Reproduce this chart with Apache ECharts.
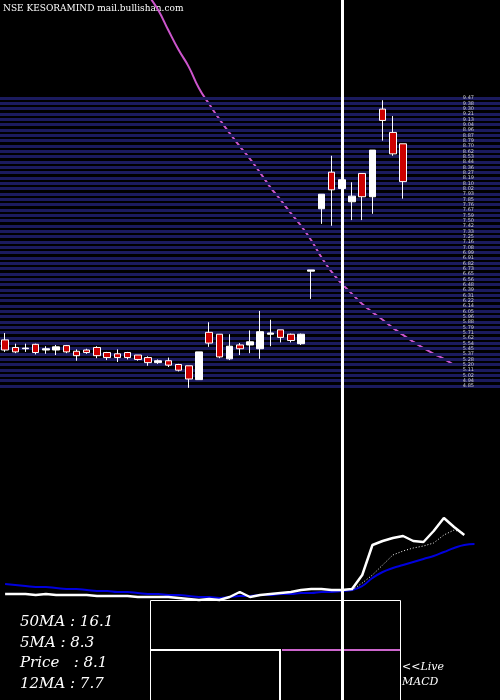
<!DOCTYPE html>
<html>
<head>
<meta charset="utf-8">
<script src="https://cdn.jsdelivr.net/npm/echarts@6/dist/echarts.min.js"></script>
<style>html,body{margin:0;padding:0;background:#000}#main{width:500px;height:700px}</style>
</head>
<body>
<div id="main"></div>
<script>
// candles: [open, close, low, high]
const candles = [
  [5.61,5.45,5.42,5.72],[5.49,5.42,5.40,5.55],[5.47,5.48,5.42,5.55],[5.54,5.41,5.38,5.55],
  [5.45,5.47,5.39,5.51],[5.45,5.50,5.37,5.53],[5.52,5.42,5.40,5.53],[5.43,5.36,5.28,5.46],
  [5.45,5.41,5.39,5.47],[5.49,5.36,5.32,5.51],[5.41,5.33,5.29,5.42],[5.39,5.33,5.26,5.46],
  [5.41,5.33,5.30,5.42],[5.37,5.30,5.28,5.37],[5.33,5.25,5.20,5.35],[5.25,5.28,5.23,5.30],
  [5.28,5.21,5.18,5.33],[5.22,5.13,5.11,5.23],[5.20,4.99,4.85,5.20],[4.98,5.42,4.98,5.42],
  [5.73,5.56,5.50,5.89],[5.70,5.34,5.32,5.70],[5.31,5.51,5.29,5.70],[5.53,5.47,5.37,5.56],
  [5.53,5.58,5.40,5.76],[5.47,5.74,5.31,6.07],[5.70,5.72,5.51,5.93],[5.77,5.65,5.57,5.77],
  [5.70,5.60,5.57,5.71],[5.55,5.70,5.53,5.71],[6.70,6.72,6.26,6.72],[7.69,7.92,7.45,7.92],
  [8.27,7.99,7.42,8.53],[8.01,8.15,8.01,8.22],[7.80,7.89,7.51,8.11],[8.25,7.88,7.51,8.25],
  [7.88,8.62,7.61,8.62],[9.27,9.09,8.77,9.41],[8.90,8.56,8.53,9.16],[8.72,8.12,7.85,8.72]
];
const maLine = [null,null,null,null,null,null,null,null,null,null,null,null,null,null,
  11.08,10.84,10.52,10.21,9.94,9.60,9.35,9.11,8.89,8.68,8.48,8.26,8.03,7.83,7.62,7.42,
  7.19,6.92,6.69,6.50,6.34,6.18,6.05,5.93,5.80,5.69,5.58,5.48,5.39,5.31,5.21];
const macdBlue = [116,115,114,113,113,112,111,111,110,109,109,108,108,107,106,106,105,105,104,103,
  103,102,103,104,104,105,105,106,106,107,107,108,108,109,110,114,122,128,132,135,138,141,144,148,152,155,156];
const macdWhite = [106,106,106,105,106,105,105,105,105,104,104,104,104,103,103,103,103,102,101,100,
  101,100,103,108,103,105,106,107,108,110,111,111,110,110,111,125,155,159,162,164,159,158,169,182,173,165];
const macdDot = [null,null,null,null,null,null,null,null,null,null,null,null,null,null,null,null,null,
  null,null,null,null,null,null,null,null,null,null,null,null,null,null,null,null,null,
  110,117,125,135,145,149,152,154,157,165,170,167];
const priceLevels = 54;
const statLines = ['50MA : 16.1','5MA : 8.3','Price   : 8.1','12MA : 7.7'];

const cats = [];
for (let i = 0; i < 49; i++) cats.push(String(i));
const levels = [];
for (let i = 0; i <= priceLevels; i++) levels.push((9.47 - i * 0.0855).toFixed(2));

const chart = echarts.init(document.getElementById('main'));
const serif = '"DejaVu Serif", "Liberation Serif", serif';
chart.setOption({
  backgroundColor: '#000',
  animation: false,
  grid: [
    { left: -2, right: 0, top: 0, bottom: 0 },
    { left: 0, right: 0, top: 98, height: 288 },
    { left: -2, right: 0, top: 500, bottom: 0 }
  ],
  xAxis: [
    { type: 'category', data: cats, gridIndex: 0, show: false },
    { type: 'value', gridIndex: 1, min: 0, max: 1, show: false },
    { type: 'category', data: cats, gridIndex: 2, show: false }
  ],
  yAxis: [
    { type: 'value', gridIndex: 0, min: -0.1, max: 11, show: false },
    { type: 'value', gridIndex: 1, min: 0, max: priceLevels, interval: 1, inverse: true, z: 3,
      position: 'right',
      axisLine: { show: false }, axisTick: { show: false },
      splitLine: { show: true, lineStyle: { color: '#1b1b5e', width: 3 } },
      axisLabel: { inside: true, margin: 26, color: '#ccc', fontSize: 5, fontFamily: 'DejaVu Sans',
        formatter: v => levels[v] } },
    { type: 'value', gridIndex: 2, min: 0, max: 200, show: false }
  ],
  series: [
    { type: 'scatter', xAxisIndex: 1, yAxisIndex: 1, data: [], silent: true },
    { type: 'line', xAxisIndex: 0, yAxisIndex: 0, data: maLine, symbol: 'none', z: 1, smooth: true,
      lineStyle: { color: '#cc55cc', width: 2 } },
    { type: 'candlestick', xAxisIndex: 0, yAxisIndex: 0, data: candles, barWidth: 7, z: 5,
      itemStyle: { color: '#ffffff', color0: '#cc0000', borderColor: '#ffffff', borderColor0: '#ffffff', borderWidth: 1 } },
    { type: 'line', xAxisIndex: 2, yAxisIndex: 2, data: macdBlue, symbol: 'none', smooth: true,
      lineStyle: { color: '#0000dd', width: 2 } },
    { type: 'line', xAxisIndex: 2, yAxisIndex: 2, data: macdDot, symbol: 'none',
      lineStyle: { color: '#ffffff', width: 1, type: [1, 2] } },
    { type: 'line', xAxisIndex: 2, yAxisIndex: 2, data: macdWhite, symbol: 'none',
      lineStyle: { color: '#ffffff', width: 2.5 } }
  ],
  graphic: [
    { type: 'text', left: 3, top: 4, style: { text: 'NSE KESORAMIND mail.bullishan.com', fill: '#fff', font: '9px ' + serif } },
    { type: 'rect', shape: { x: 150.5, y: 600.5, width: 250, height: 110 }, style: { fill: 'none', stroke: '#fff', lineWidth: 1 }, z: 10 },
    { type: 'polyline', shape: { points: [[151, 650], [280, 650], [280, 700]] }, style: { stroke: '#fff', lineWidth: 2, fill: 'none' }, z: 10 },
    { type: 'line', shape: { x1: 282, y1: 650, x2: 400, y2: 650 }, style: { stroke: '#cc66cc', lineWidth: 2 }, z: 10 },
    { type: 'line', shape: { x1: 342.5, y1: 0, x2: 342.5, y2: 700 }, style: { stroke: '#fff', lineWidth: 3 }, z: 20 },
    ...statLines.map((t, i) => ({ type: 'text', left: 20, top: 615 + i * 20.5,
      style: { text: t, fill: '#fff', font: 'italic 15px ' + serif } })),
    { type: 'text', left: 402, top: 660, style: { text: '<<Live\nMACD', fill: '#fff', font: 'italic 11px ' + serif, lineHeight: 15 } }
  ]
});
</script>
</body>
</html>
